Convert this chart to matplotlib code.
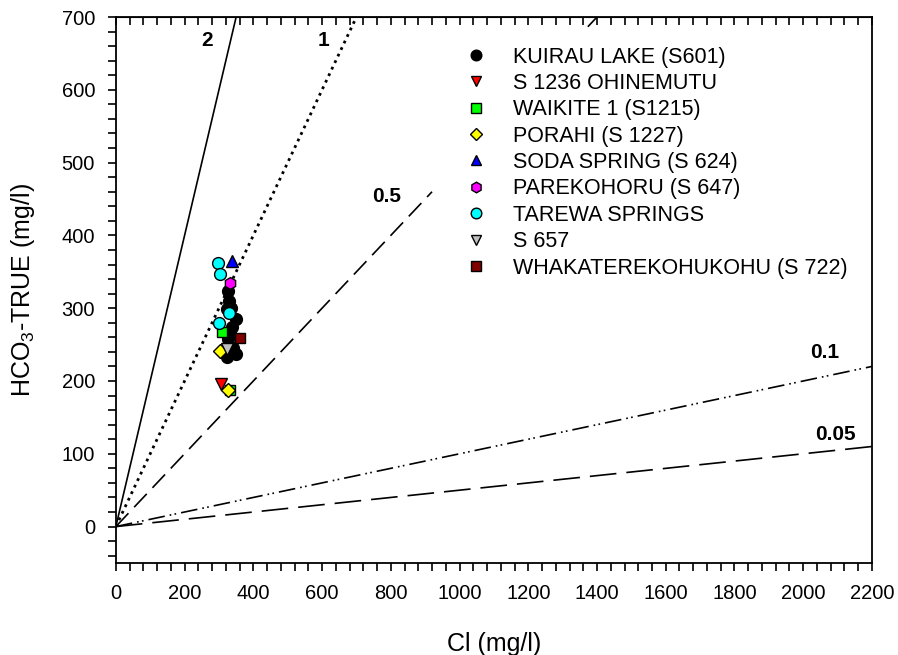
import matplotlib
matplotlib.use('Agg')
import matplotlib.pyplot as plt
from matplotlib.ticker import MultipleLocator
import numpy as np

plt.rcParams['font.family'] = ['Liberation Sans', 'DejaVu Sans']
plt.rcParams['mathtext.default'] = 'regular'

# sample data, Cl vs HCO3 (mg/l)
kuirau_cl = [327, 330, 322, 351, 337, 341, 322, 351, 331, 334, 326]
kuirau_hco3 = [324, 310, 299, 285, 274, 246, 233, 237, 265, 300, 258]
ohinemutu_cl = [305]
ohinemutu_hco3 = [196]
waikite_cl = [308, 332]
waikite_hco3 = [267, 188]
porahi_cl = [303, 326]
porahi_hco3 = [241, 188]
soda_cl = [338]
soda_hco3 = [365]
parekohoru_cl = [332]
parekohoru_hco3 = [334]
tarewa_cl = [297, 303, 329, 300]
tarewa_hco3 = [362, 347, 294, 280]
s657_cl = [323]
s657_hco3 = [244]
whaka_cl = [361]
whaka_hco3 = [259]

# ratio lines HCO3/Cl and the Cl value where each one stops
ratios = [2, 1, 0.5, 0.1, 0.05]
ratio_xmax = [350, 700, 920, 2200, 2200]
ratio_labels = ['2', '1', '0.5', '0.1', '0.05']
label_pos = [(265, 668), (603, 668), (789, 453), (2063, 239), (2095, 126)]

fig = plt.figure(figsize=(8.98, 6.55), dpi=100)
ax = fig.add_axes([0.129, 0.1405, 0.842, 0.8335])

styles = ['-', (0, (1, 1.6)), (0, (11, 5)), (0, (10, 3, 1, 2, 1, 3)), (0, (16, 6))]
widths = [1.2, 2.0, 1.2, 1.2, 1.2]
for r, xm, ls, lw in zip(ratios, ratio_xmax, styles, widths):
    xs = np.array([0, xm])
    ax.plot(xs, r * xs, color='black', ls=ls, lw=lw, zorder=1)
# small stray piece of the 0.5 line at the top
xs = np.array([1375, 1400])
ax.plot(xs, 0.5 * xs, color='black', lw=1.2, zorder=1)

for t, (tx, ty) in zip(ratio_labels, label_pos):
    ax.text(tx, ty, t, ha='center', va='center', fontsize=15, fontweight='bold')

ms = 8.5
ax.plot(kuirau_cl, kuirau_hco3, 'o', color='black', mec='black', ms=ms, label='KUIRAU LAKE (S601)')
ax.plot(ohinemutu_cl, ohinemutu_hco3, 'v', color='red', mec='black', ms=ms, label='S 1236 OHINEMUTU')
ax.plot(waikite_cl, waikite_hco3, 's', color='#00ff00', mec='black', ms=ms - 1, label='WAIKITE 1 (S1215)')
ax.plot(porahi_cl, porahi_hco3, 'D', color='yellow', mec='black', ms=ms - 1.5, label='PORAHI (S 1227)')
ax.plot(soda_cl, soda_hco3, '^', color='blue', mec='black', ms=ms, label='SODA SPRING (S 624)')
ax.plot(parekohoru_cl, parekohoru_hco3, 'h', color='magenta', mec='black', ms=ms, label='PAREKOHORU (S 647)')
ax.plot(tarewa_cl, tarewa_hco3, 'o', color='cyan', mec='black', ms=ms, label='TAREWA SPRINGS')
ax.plot(s657_cl, s657_hco3, 'v', color='#c0c0c0', mec='black', ms=ms, label='S 657')
ax.plot(whaka_cl, whaka_hco3, 's', color='#800000', mec='black', ms=ms - 1, label='WHAKATEREKOHUKOHU (S 722)')

leg = ax.legend(loc='upper left', bbox_to_anchor=(0.5156, 0.929), bbox_transform=fig.transFigure,
                frameon=False, fontsize=15.5, handletextpad=1.1, labelspacing=0.25,
                markerscale=0.9, borderaxespad=0, borderpad=0, handlelength=1.2)

ax.set_xlim(0, 2200)
ax.set_ylim(-50, 700)
ax.xaxis.set_major_locator(MultipleLocator(200))
ax.xaxis.set_minor_locator(MultipleLocator(40))
ax.yaxis.set_major_locator(MultipleLocator(100))
ax.yaxis.set_minor_locator(MultipleLocator(20))
ax.set_yticks(np.arange(0, 701, 100))
ax.tick_params(axis='both', which='major', labelsize=14.5, length=6, width=1.2, direction='out', pad=9)
ax.tick_params(axis='both', which='minor', length=6, width=1.2, direction='out')
for s in ax.spines.values():
    s.set_linewidth(1.3)

# inward ticks along the top edge
top = ax.secondary_xaxis('top')
top.xaxis.set_major_locator(MultipleLocator(200))
top.xaxis.set_minor_locator(MultipleLocator(40))
top.tick_params(which='both', direction='in', length=6, width=1.2, labeltop=False)

ax.set_xlabel('Cl (mg/l)', fontsize=18, labelpad=21)
ax.set_ylabel('HCO$_3$-TRUE (mg/l)', fontsize=18, labelpad=18)

plt.savefig('out.png', dpi=100)
